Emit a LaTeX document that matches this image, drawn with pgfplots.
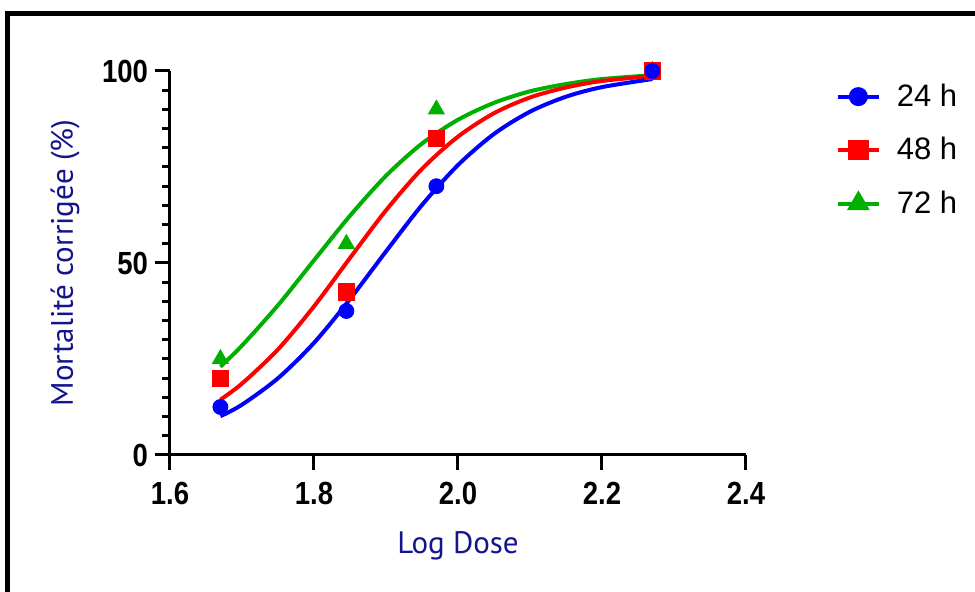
\documentclass[border=0pt]{standalone}
\usepackage{pgfplots}
\pgfplotsset{compat=1.18}
\usepackage{fontspec}
\setmainfont{Liberation Sans}
\newfontfamily\tickfont{Liberation Sans}[FakeStretch=0.86]
\newfontfamily\labfont{PT Sans}

\definecolor{lblue}{RGB}{20,20,140}
\definecolor{cgreen}{RGB}{0,176,0}

\begin{document}
\begin{tikzpicture}
\useasboundingbox (0,0) rectangle (487.5pt,296pt);
\fill[white] (0,0) rectangle (487.5pt,296pt);
\draw[line width=2.5pt] (3.5pt,-5pt) -- (3.5pt,289pt) -- (495pt,289pt);

\begin{axis}[
    at={(85pt,68.5pt)}, anchor=south west,
    scale only axis, width=288pt, height=192pt,
    xmin=1.6, xmax=2.4, ymin=0, ymax=100,
    axis lines*=left,
    axis line style={line width=1.5pt, black},
    tick style={line width=1.5pt, black},
    tick align=outside,
    major tick length=7.5pt, minor tick length=4pt,
    xtick={1.6,1.8,2.0,2.2,2.4},
    ytick={0,50,100},
    minor y tick num=9,
    /pgf/number format/assume math mode=true,
    x tick label style={/pgf/number format/.cd, fixed, fixed zerofill, precision=1, /tikz/.cd, yshift=-2.5pt},
    tick label style={font=\tickfont\bfseries\fontsize{16}{16}\selectfont},
    xlabel={Log Dose},
    ylabel={Mortalité corrigée (\%)},
    label style={font=\labfont\fontsize{15.5}{15.5}\selectfont, text=lblue},
    xlabel style={at={(axis description cs:0.5,-0.237)}, anchor=center},
    ylabel style={at={(axis description cs:-0.182,0.5)}, anchor=center},
    clip=false,
    legend style={at={(1.145,0.794)}, anchor=west, draw=none, fill=none,
        font=\fontsize{15.5}{15.5}\selectfont, row sep=10pt,
        /tikz/every odd column/.append style={column sep=6pt}},
    legend cell align=left,
    legend image code/.code={
        \draw[mark repeat=2,mark phase=2] plot coordinates {(0pt,0pt)(10.25pt,0pt)(20.5pt,0pt)};
    },
]
\addlegendimage{blue, line width=2pt, mark=*, mark size=3.75pt, mark options={solid}}
\addlegendentry{24 h}
\addlegendimage{red, line width=2pt, mark=square*, mark size=4.1pt, mark options={solid}}
\addlegendentry{48 h}
\addlegendimage{cgreen, line width=2pt, mark=triangle*, mark size=4.6pt, mark options={solid}}
\addlegendentry{72 h}

% fitted curves
\addplot[forget plot, cgreen, line width=2pt, smooth] coordinates {
(1.67,23.0)(1.70,28.5)(1.75,39.0)(1.80,50.7)(1.85,62.3)(1.90,72.7)(1.95,81.1)
(2.00,87.3)(2.05,91.7)(2.10,94.7)(2.15,96.6)(2.20,97.9)(2.27,98.9)};
\addplot[forget plot, red, line width=2pt, smooth] coordinates {
(1.67,14.4)(1.70,18.6)(1.75,27.5)(1.80,38.7)(1.85,51.3)(1.90,63.7)(1.95,74.5)
(2.00,82.9)(2.05,89.0)(2.10,93.1)(2.15,95.7)(2.20,97.4)(2.27,98.7)};
\addplot[forget plot, blue, line width=2pt, smooth] coordinates {
(1.67,10.1)(1.70,13.1)(1.75,20.0)(1.80,29.2)(1.85,40.6)(1.90,53.0)(1.95,65.1)
(2.00,75.5)(2.05,83.6)(2.10,89.4)(2.15,93.3)(2.20,95.8)(2.27,97.9)};

% data points
\addplot[forget plot, only marks, cgreen, mark=triangle*, mark size=4.6pt] coordinates {
(1.67,25)(1.845,55)(1.97,90)(2.27,100)};
\addplot[forget plot, only marks, red, mark=square*, mark size=4.1pt] coordinates {
(1.67,20)(1.845,42.5)(1.97,82.5)(2.27,100)};
\addplot[forget plot, only marks, blue, mark=*, mark size=3.75pt] coordinates {
(1.67,12.5)(1.845,37.5)(1.97,70)(2.27,100)};
\end{axis}
\end{tikzpicture}
\end{document}
